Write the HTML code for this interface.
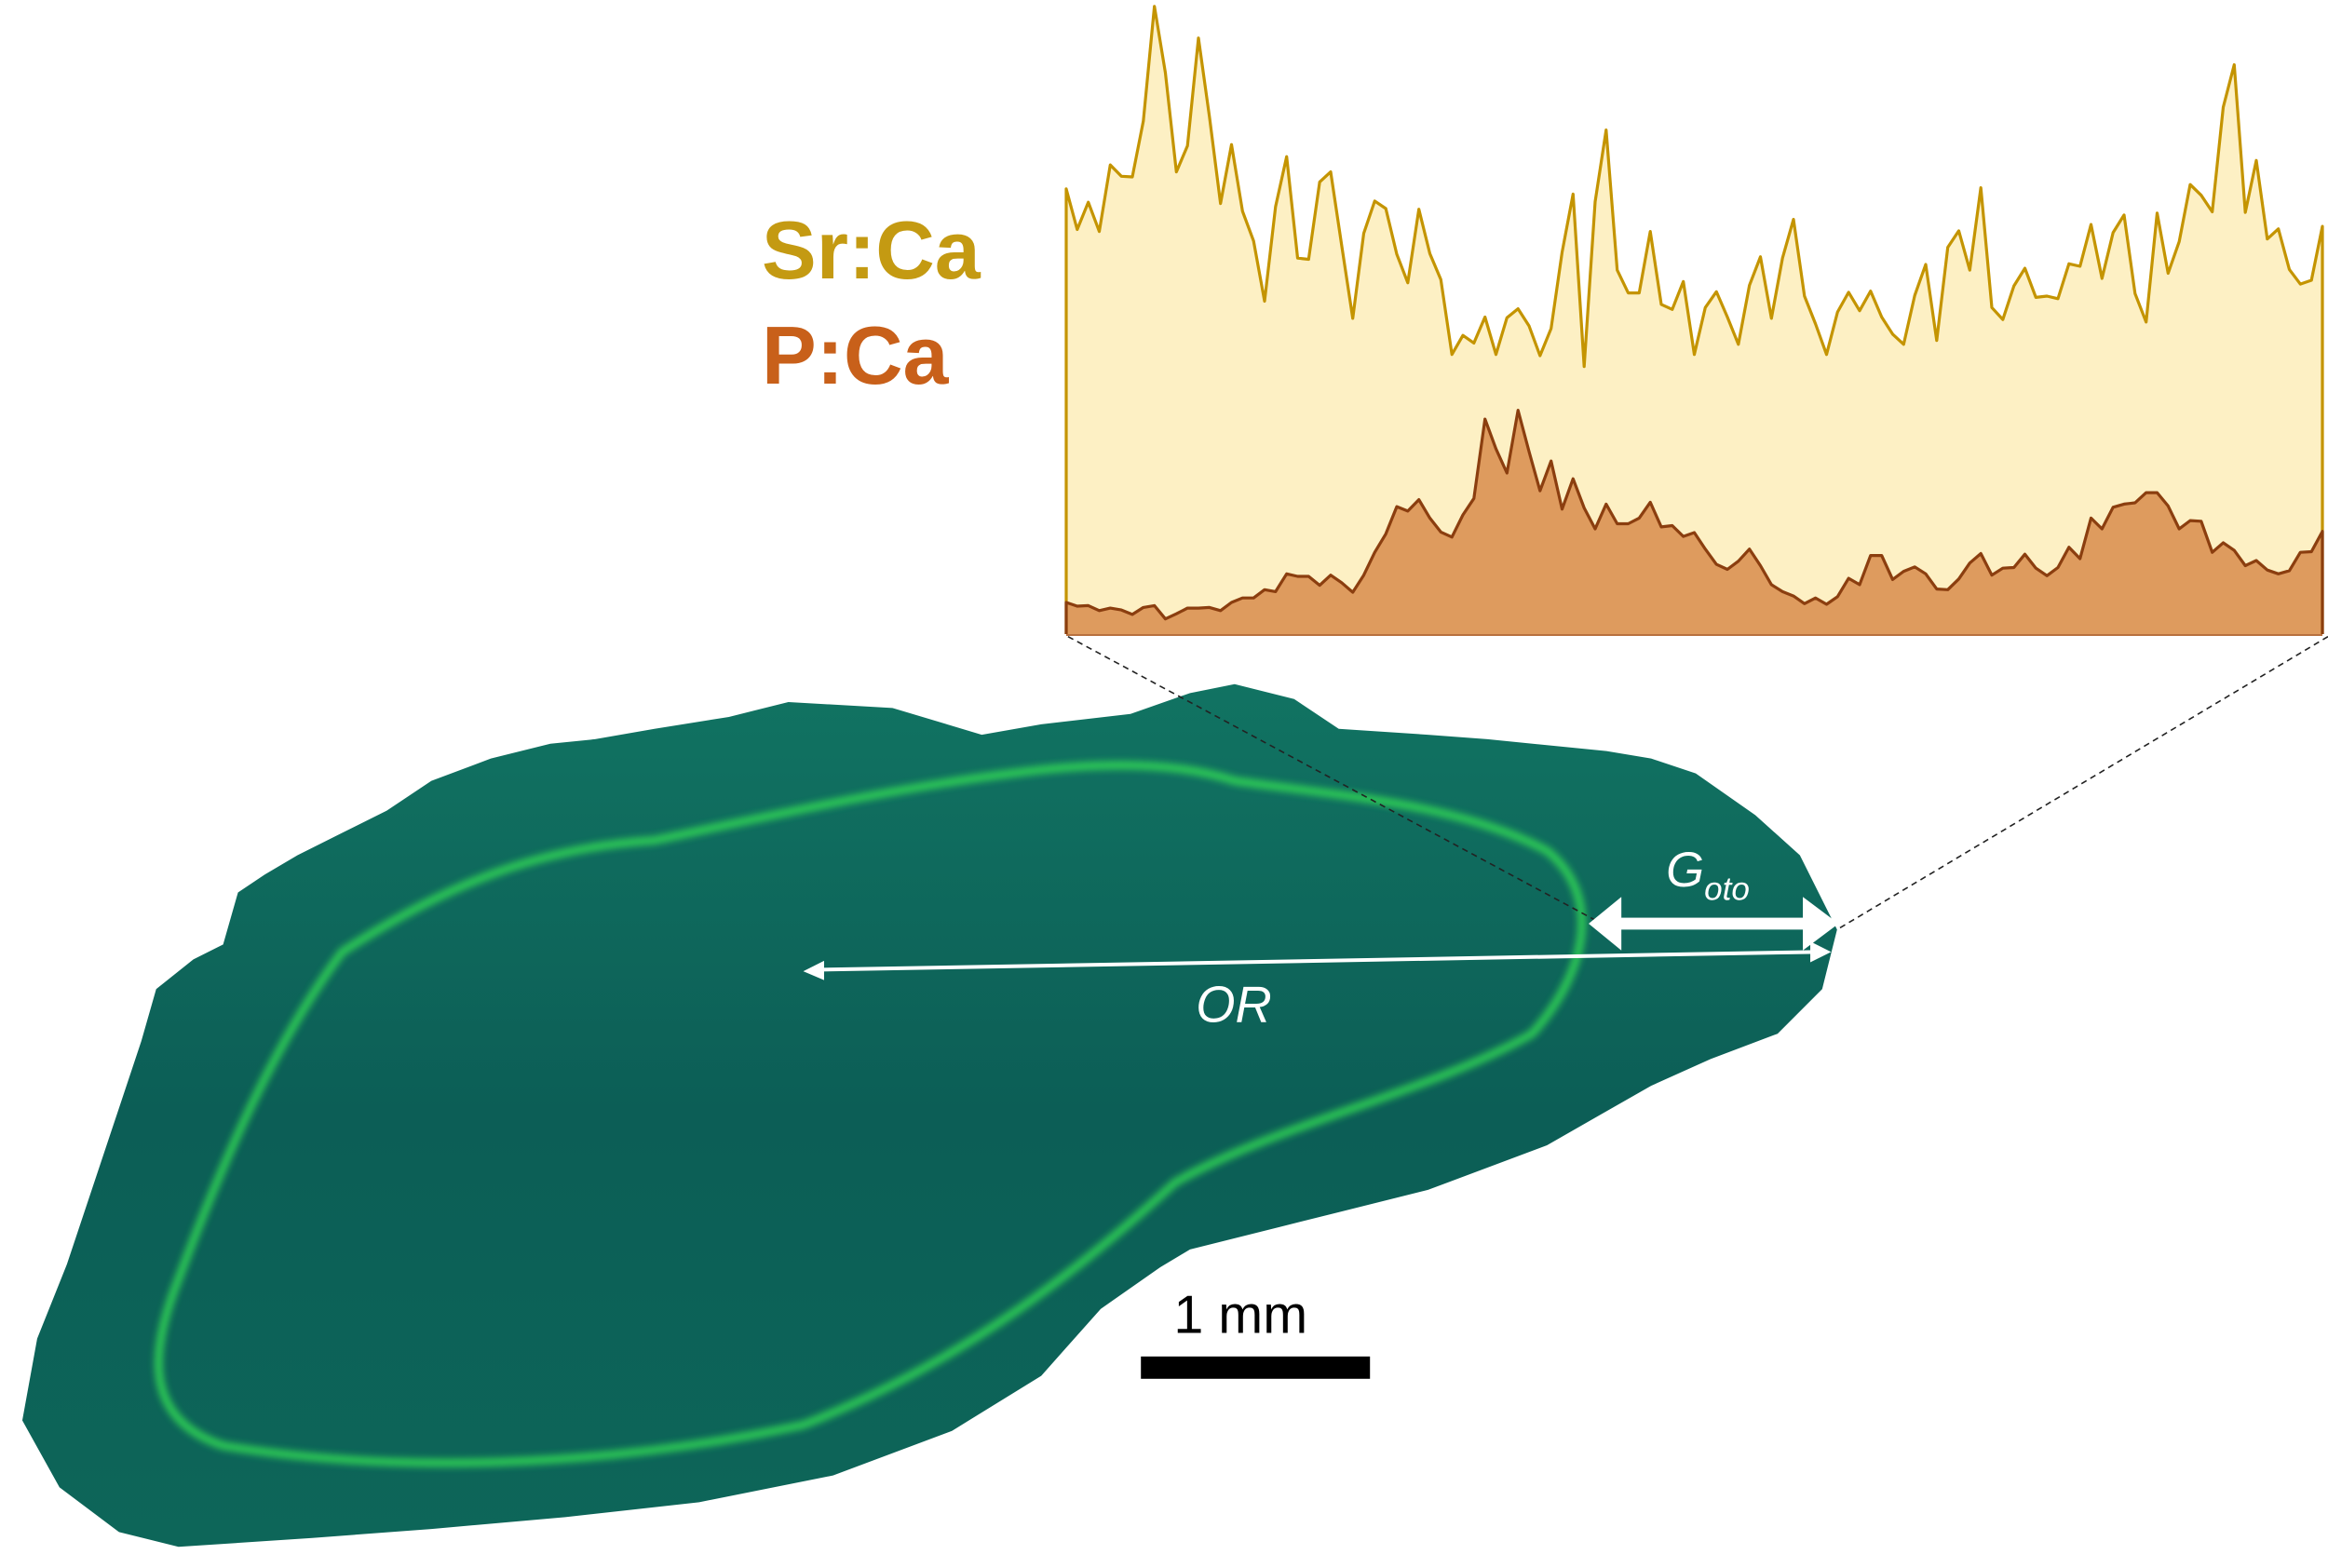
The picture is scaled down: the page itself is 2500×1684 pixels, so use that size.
<!DOCTYPE html>
<html><head><meta charset="utf-8"><style>
html,body{margin:0;padding:0;background:#fff}
svg{display:block}
</style></head><body>
<svg id="fig" width="2500" height="1684" viewBox="0 0 2500 1684" xmlns="http://www.w3.org/2000/svg">
<defs>
<linearGradient id="oto" x1="0" y1="0" x2="0" y2="1">
<stop offset="0" stop-color="#117362"/><stop offset="0.5" stop-color="#0c5e56"/><stop offset="1" stop-color="#0d6659"/>
</linearGradient>
<filter id="blur" x="-10%" y="-10%" width="120%" height="120%"><feGaussianBlur stdDeviation="2.5"/></filter>
</defs>
<g transform="scale(1.5974)">
<path fill="url(#oto)" d="M15,955 L25,900 L45,850 L75,760 L95,700 L105,665 L130,645 L150,635 L160,600 L178,588 L200,575 L230,560 L260,545 L290,525 L330,510 L370,500 L400,497 L440,490 L490,482 L530,472 L600,476 L660,494 L700,487 L760,480 L800,466 L830,460 L870,470 L900,490 L960,494 L1000,497 L1080,505 L1110,510 L1140,520 L1180,548 L1210,575 L1235,625 L1225,665 L1195,695 L1150,712 L1110,730 L1075,750 L1040,770 L960,800 L900,815 L860,825 L800,840 L780,852 L740,880 L700,925 L640,962 L560,992 L470,1010 L380,1020 L290,1028 L210,1034 L120,1040 L80,1030 L40,1000 Z"/>
<path fill="none" stroke="#35e055" stroke-width="5" opacity="0.9" filter="url(#blur)" d="M230,640 C300,595 360,570 440,565 C520,548 600,530 680,520 C740,512 790,512 830,525 C900,535 980,540 1040,572 C1075,600 1070,650 1030,695 C960,735 860,755 790,795 C730,850 650,915 540,958 C400,988 260,990 150,972 C100,955 98,915 120,860 C150,780 185,700 230,640 Z"/>
<line x1="718" y1="428" x2="1075" y2="620" stroke="#222" stroke-width="1" stroke-dasharray="4,3"/>
<line x1="1565" y1="428" x2="1235" y2="625" stroke="#222" stroke-width="1" stroke-dasharray="4,3"/>
<g stroke="#fff" fill="#fff">
<line x1="548" y1="652" x2="1222" y2="640" stroke-width="2.5"/>
<path d="M540,653 L554,646 L554,659 Z" stroke="none"/>
<path d="M1231,640 L1217,633 L1217,647 Z" stroke="none"/>
</g>
<g fill="#fff">
<rect x="1085" y="617" width="130" height="8"/>
<path d="M1068,621 L1090,603 L1090,639 Z"/>
<path d="M1236,621 L1212,603 L1212,639 Z"/>
</g>
<text x="1120" y="596" fill="#fff" font-family="Liberation Sans, sans-serif" font-style="italic" font-size="33">G<tspan font-size="22" dy="9">oto</tspan></text>
<text x="804" y="687" fill="#fff" font-family="Liberation Sans, sans-serif" font-style="italic" font-size="34">OR</text>
<text x="789" y="896" fill="#000" font-family="Liberation Sans, sans-serif" font-size="36">1 mm</text>
<rect x="767" y="912" width="154" height="15" fill="#000"/>
</g>
<text x="818" y="299" fill="#c49a12" font-family="Liberation Sans, sans-serif" font-weight="bold" font-size="88">Sr:Ca</text>
<text x="818" y="412" fill="#c8601a" font-family="Liberation Sans, sans-serif" font-weight="bold" font-size="88">P:Ca</text>
<g id="chart"></g>
</svg>
<script>
const srValues=[70.2,63.8,68.1,63.5,74.0,72.2,72.1,80.9,99.0,88.5,72.9,77.0,94.0,81.6,67.9,77.2,66.7,62.0,52.5,67.4,75.3,59.3,59.1,71.3,72.9,61.3,49.8,63.2,68.3,67.1,59.9,55.4,67.0,60.0,55.9,44.1,47.1,45.9,50.0,44.1,49.9,51.3,48.6,43.9,48.2,60.2,69.4,42.2,68.2,79.5,57.4,53.8,53.8,63.5,52.0,51.2,55.6,44.1,51.5,
54.0,50.0,45.7,55.0,59.5,49.8,59.3,65.4,53.3,48.9,44.1,50.8,53.9,51.0,54.1,50.0,47.3,45.7,53.4,58.3,46.3,61.0,63.6,57.4,70.4,51.5,49.6,54.9,57.7,53.1,53.3,52.9,58.4,58.0,64.6,56.1,63.3,66.1,53.7,49.2,66.4,56.9,61.9,70.9,69.2,66.6,83.1,89.8,66.5,74.7,62.3,63.9,57.5,55.2,55.8,64.3];
const pValues=[5.0,4.4,4.5,3.7,4.1,3.8,3.1,4.2,4.5,2.4,3.2,4.1,4.1,4.2,3.7,5.0,5.7,5.7,7.0,6.7,9.5,9.1,9.1,7.7,9.3,8.1,6.6,9.3,12.9,15.8,20.1,19.4,21.2,18.3,16.1,15.3,18.8,21.4,33.9,29.2,25.4,35.3,28.8,22.6,27.3,19.7,24.5,19.9,16.6,20.5,17.4,17.4,18.3,20.8,16.9,17.1,15.4,16.0,13.4,
11.0,10.2,11.5,13.4,10.8,7.8,6.7,6.0,4.8,5.7,4.7,5.9,8.8,7.8,12.4,12.4,8.6,9.9,10.6,9.5,7.1,7.0,8.7,11.2,12.7,9.3,10.4,10.5,12.6,10.4,9.2,10.5,13.7,11.9,18.3,16.6,20.0,20.5,20.7,22.3,22.3,20.2,16.6,17.9,17.8,12.9,14.4,13.2,10.8,11.6,10.1,9.5,10.0,12.9,13.0,16.2];
const seriesNames=["Sr:Ca","P:Ca"];
(function(){
const NS="http://www.w3.org/2000/svg";
const g=document.getElementById('chart');
const X0=1145,X1=2494,Y0=681,YT=0;
const n=srValues.length;
const xs=i=>X0+(X1-X0)*i/(n-1);
const ys=v=>Y0-(Y0-YT)*v/100;
function pts(arr){return arr.map((v,i)=>xs(i).toFixed(1)+','+ys(v).toFixed(1)).join(' ');}
function area(arr,fill,name){
const p=document.createElementNS(NS,'polygon');
p.setAttribute('points',X0+','+Y0+' '+pts(arr)+' '+X1+','+Y0);
p.setAttribute('fill',fill);


g.appendChild(p);}
function line(arr,stroke,name){
const p=document.createElementNS(NS,'polyline');
p.setAttribute('points',X0+','+Y0+' '+pts(arr)+' '+X1+','+Y0);
p.setAttribute('fill','none');p.setAttribute('stroke',stroke);p.setAttribute('stroke-width','3.2');p.setAttribute('stroke-linejoin','round');


g.appendChild(p);}
area(srValues,'#fdf0c4','srca-area');
area(pValues,'#de9b5e','pca-area');
line(srValues,'#c49400','srca-line');
line(pValues,'#8b3e0f','pca-line');
const b=document.createElementNS(NS,'line');
b.setAttribute('x1',X0);b.setAttribute('x2',X1);b.setAttribute('y1',Y0+1);b.setAttribute('y2',Y0+1);
b.setAttribute('stroke','#b8703e');b.setAttribute('stroke-width','2');


g.appendChild(b);
})();
</script>
</body></html>
